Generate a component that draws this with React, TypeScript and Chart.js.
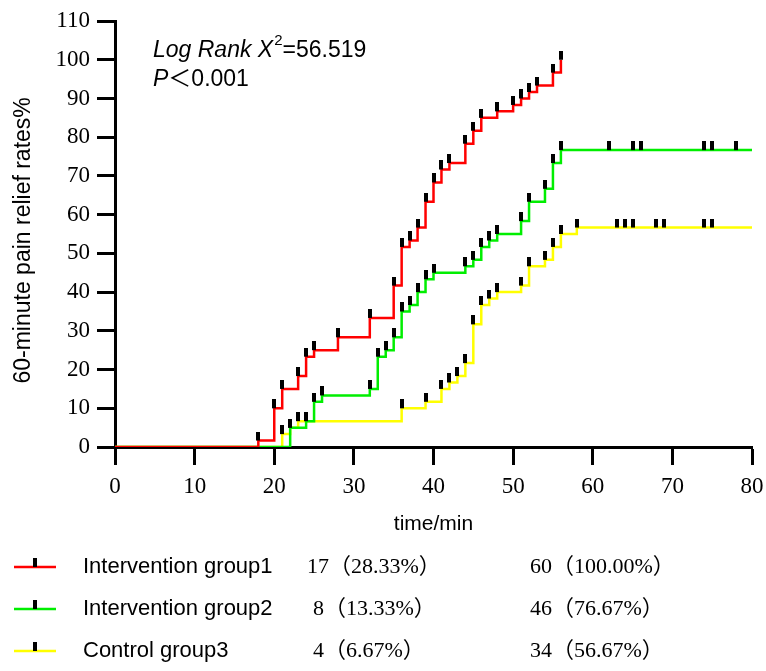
import React, { useEffect, useRef } from "react";
import { Chart, registerables } from "chart.js";

Chart.register(...registerables);

// ---------------- data ----------------
const xTickValues = [0, 10, 20, 30, 40, 50, 60, 70, 80];
const yTickValues = [0, 10, 20, 30, 40, 50, 60, 70, 80, 90, 100, 110];

const groupNames = ["Intervention group1", "Intervention group2", "Control group3"];

// event times (min) and cumulative relief rate (%) after each step
const group1Times = [18, 20, 21, 23, 24, 25, 28, 32, 35, 36, 37, 38, 39, 40, 41, 42, 44, 45, 46, 48, 50, 51, 52, 53, 55, 56];
const group1Rates = [1.67, 10, 15, 18.33, 23.33, 25, 28.33, 33.33, 41.67, 51.67, 53.33, 56.67, 63.33, 68.33, 71.67, 73.33, 78.33, 81.67, 85, 86.67, 88.33, 90, 91.67, 93.33, 96.67, 100];
const group1Censored: number[] = [];

const group2Times = [22, 24, 25, 26, 32, 33, 34, 35, 36, 37, 38, 39, 40, 44, 45, 46, 47, 48, 51, 52, 54, 55, 56];
const group2Rates = [5, 6.67, 11.67, 13.33, 15, 23.33, 25, 28.33, 35, 36.67, 40, 43.33, 45, 46.67, 48.33, 51.67, 53.33, 55, 58.33, 63.33, 66.67, 73.33, 76.67];
const group2Censored = [62, 65, 66, 74, 75, 78];

const group3Times = [21, 22, 23, 36, 39, 41, 42, 43, 44, 45, 46, 47, 48, 51, 52, 54, 55, 56, 58];
const group3Rates = [3.33, 5, 6.67, 10, 11.67, 15, 16.67, 18.33, 21.67, 31.67, 36.67, 38.33, 40, 41.67, 46.67, 48.33, 51.67, 55, 56.67];
const group3Censored = [63, 64, 65, 68, 69, 74, 75];

const curveEnds = [56, 80, 80];

const at30Labels = ["17（28.33%）", "8（13.33%）", "4（6.67%）"];
const at60Labels = ["60（100.00%）", "46（76.67%）", "34（56.67%）"];

const statLabel = "Log Rank X";
const statSup = "2";
const statValue = "=56.519";
const pLabel = "P";
const pValue = "＜0.001";

// ---------------- styles ----------------
const groupColors = ["#ff0000", "#00ee00", "#ffff00"];
const SANS = "'Liberation Sans', Arial, sans-serif";
const SERIF = "'Liberation Serif', 'Noto Sans CJK SC', serif";

function makeMarker(): HTMLCanvasElement {
  const c = document.createElement("canvas");
  c.width = 4;
  c.height = 18;
  const g = c.getContext("2d")!;
  g.fillStyle = "#000";
  g.fillRect(0, 0, 4, 9);
  return c;
}

const groups = [
  { times: group1Times, rates: group1Rates, censored: group1Censored },
  { times: group2Times, rates: group2Rates, censored: group2Censored },
  { times: group3Times, rates: group3Rates, censored: group3Censored },
];

function stepPoints(i: number) {
  const g = groups[i];
  const pts = [{ x: 0, y: 0 }];
  g.times.forEach((t, k) => pts.push({ x: t, y: g.rates[k] }));
  const last = g.rates[g.rates.length - 1];
  if (curveEnds[i] > g.times[g.times.length - 1]) pts.push({ x: curveEnds[i], y: last });
  return pts;
}

function markerPoints(i: number) {
  const g = groups[i];
  const pts = g.times.map((t, k) => ({ x: t, y: g.rates[k] }));
  const last = g.rates[g.rates.length - 1];
  g.censored.forEach((t) => pts.push({ x: t, y: last }));
  return pts;
}

const textPlugin = {
  id: "statText",
  afterDraw(chart: any) {
    const ctx = chart.ctx as CanvasRenderingContext2D;
    ctx.save();
    ctx.fillStyle = "#000";
    ctx.textBaseline = "alphabetic";
    ctx.textAlign = "left";
    let x = 153;
    ctx.font = `italic 23px ${SANS}`;
    ctx.fillText(statLabel, x, 57);
    x += ctx.measureText(statLabel).width + 1;
    ctx.font = `15px ${SANS}`;
    ctx.fillText(statSup, x, 45);
    x += ctx.measureText(statSup).width;
    ctx.font = `23px ${SANS}`;
    ctx.fillText(statValue, x, 57);

    x = 153;
    ctx.font = `italic 23px ${SANS}`;
    ctx.fillText(pLabel, x, 86);
    x += ctx.measureText(pLabel).width;
    ctx.font = `23px ${SANS}, 'Noto Sans CJK SC'`;
    ctx.fillText(pValue, x, 86);
    ctx.restore();
  },
};

const legendRowY = [567, 609, 651];
const legendCol2X = [307, 313, 313];
const legendCol3X = 530;

const legendPlugin = {
  id: "customLegend",
  afterDraw(chart: any) {
    const ctx = chart.ctx as CanvasRenderingContext2D;
    ctx.save();
    groupNames.forEach((name, i) => {
      const y = legendRowY[i];
      ctx.strokeStyle = groupColors[i];
      ctx.lineWidth = 2.5;
      ctx.beginPath();
      ctx.moveTo(14, y);
      ctx.lineTo(56, y);
      ctx.stroke();
      ctx.fillStyle = "#000";
      ctx.fillRect(33, y - 9, 4, 9);
      ctx.textBaseline = "middle";
      ctx.textAlign = "left";
      ctx.font = `22px ${SANS}`;
      ctx.fillText(name, 83, y);
      ctx.font = `22px ${SERIF}`;
      ctx.fillText(at30Labels[i], legendCol2X[i], y);
      ctx.fillText(at60Labels[i], legendCol3X, y);
    });
    ctx.restore();
  },
};

export default function App() {
  const ref = useRef<HTMLCanvasElement>(null);

  useEffect(() => {
    const canvas = ref.current!;
    const marker = makeMarker();
    const markerSets = [0, 1, 2].map((i) => ({
      label: groupNames[i] + " marks",
      data: markerPoints(i),
      showLine: false,
      pointStyle: marker as any,
      pointRadius: 3,
      pointHoverRadius: 3,
      borderWidth: 0,
      borderColor: "#000",
      backgroundColor: "#000",
    }));
    const lineSets = [0, 1, 2].map((i) => ({
      label: groupNames[i],
      data: stepPoints(i),
      stepped: true as const,
      borderColor: groupColors[i],
      backgroundColor: groupColors[i],
      borderWidth: 2.5,
      pointRadius: 0,
      fill: false,
      tension: 0,
    }));

    const tickFont = { family: SERIF, size: 23 };
    const chart = new Chart(canvas, {
      type: "line",
      data: { datasets: [...markerSets, ...lineSets] as any },
      options: {
        animation: false,
        responsive: false,
        devicePixelRatio: 1,
        layout: { padding: { top: 21, right: 14, bottom: 124, left: 0 } },
        plugins: {
          legend: { display: false },
          tooltip: { enabled: false },
        },
        scales: {
          x: {
            type: "linear",
            min: 0,
            max: 80,
            afterBuildTicks: (scale: any) => {
              scale.ticks = xTickValues.map((v) => ({ value: v }));
            },
            afterFit: (scale: any) => {
              scale.height = 100;
              scale.paddingLeft = 0;
              scale.paddingRight = 0;
            },
            ticks: { color: "#000", font: tickFont, padding: 8, maxRotation: 0, autoSkip: false },
            grid: { drawOnChartArea: false, drawTicks: true, tickLength: 18, tickWidth: 3, tickColor: "#000" },
            border: { display: true, width: 3, color: "#000" },
            title: {
              display: true,
              text: "time/min",
              color: "#000",
              font: { family: SANS, size: 21 },
              padding: { top: 0, bottom: 10 },
            },
          },
          y: {
            type: "linear",
            min: 0,
            max: 110,
            afterBuildTicks: (scale: any) => {
              scale.ticks = yTickValues.map((v) => ({ value: v }));
            },
            afterFit: (scale: any) => {
              scale.width = 115;
              scale.paddingTop = 0;
              scale.paddingBottom = 0;
            },
            ticks: { color: "#000", font: tickFont, padding: 7, autoSkip: false },
            grid: { drawOnChartArea: false, drawTicks: true, tickLength: 18, tickWidth: 3, tickColor: "#000" },
            border: { display: true, width: 3, color: "#000" },
            title: {
              display: true,
              text: "60-minute pain relief rates%  ",
              color: "#000",
              font: { family: SANS, size: 23 },
              padding: { top: 10, bottom: 0 },
            },
          },
        },
      },
      plugins: [textPlugin, legendPlugin],
    });
    return () => chart.destroy();
  }, []);

  return (
    <div style={{ position: "fixed", left: 0, top: 0, width: 766, height: 671, background: "#fff" }}>
      <canvas ref={ref} width={766} height={671} style={{ display: "block", width: 766, height: 671 }} />
    </div>
  );
}
